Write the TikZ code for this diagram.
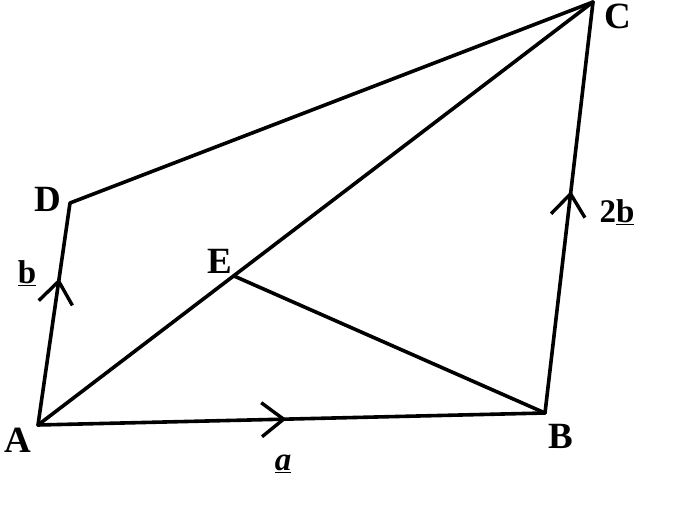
\documentclass[tikz,border=0pt]{standalone}
\usepackage{fontspec}
\setmainfont{Liberation Serif}
\usetikzlibrary{arrows.meta,decorations.markings}
\tikzset{
  edge/.style={line width=3.6pt, line cap=round, line join=round},
  midarrow/.style={postaction={decorate}, decoration={markings,
     mark=at position #1 with {\arrow{Straight Barb[length=22pt,width=34pt,line width=3.4pt]}}}},
  vlabel/.style={font=\fontsize{37}{39}\selectfont\bfseries, inner sep=0pt},
  slabel/.style={font=\fontsize{33}{35}\selectfont\bfseries, inner sep=0pt}
}
\begin{document}
\begin{tikzpicture}[x=1pt,y=-1pt]
\useasboundingbox (0,0) rectangle (690,510);
\fill[white] (0,0) rectangle (690,510);
\coordinate (A) at (38,425);
\coordinate (B) at (545,413);
\coordinate (C) at (593,2);
\coordinate (D) at (70,203);
\coordinate (E) at (234,276);
% edges
\draw[edge, midarrow=0.66] (A) -- (D);
\draw[edge] (D) -- (C);
\draw[edge] (A) -- (C);
\draw[edge] (E) -- (B);
\draw[edge, midarrow=0.49] (A) -- (B);
\draw[edge, midarrow=0.54] (B) -- (C);
% labels
\node[vlabel] (lA) at (18,440) {A};
\node[vlabel] (lB) at (561,436) {B};
\node[vlabel] (lC) at (618,16) {C};
\node[vlabel] (lD) at (48,199) {D};
\node[vlabel] (lE) at (220,261) {E};
\node[slabel] (lb) at (27,273) {\underline{b}};
\node[slabel] (l2b) at (617,212) {2\underline{b}};
\node[slabel] (la) at (283,464) {\underline{\textit{a}}};
\end{tikzpicture}
\end{document}
